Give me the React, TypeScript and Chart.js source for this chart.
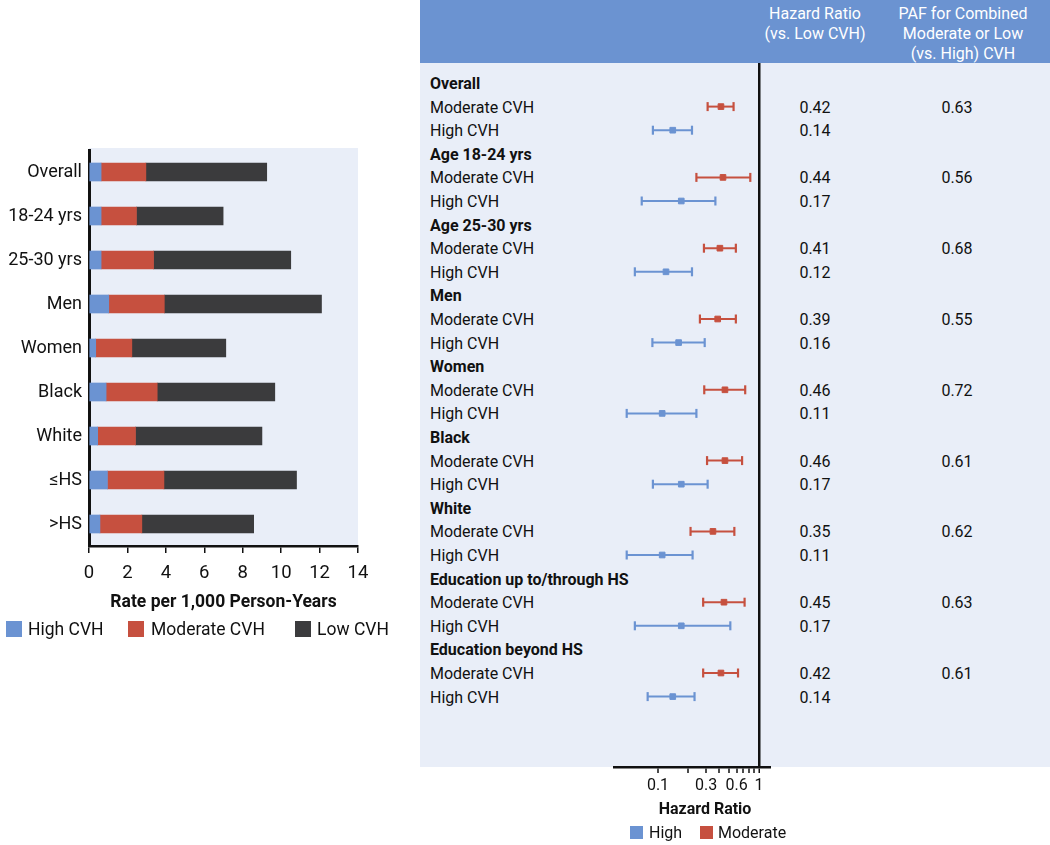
import React, { useEffect, useRef } from 'react';
import { Chart, registerables } from 'chart.js';
Chart.register(...registerables);

const FONT = 'Roboto, "Open Sans", sans-serif';
const BLUE = '#6b93d2';
const RED = '#c6503f';
const DARK = '#3b3b3d';
const PANEL_BG = '#e9eef8';
const HEADER_BG = '#6b93d1';
const INK = '#111111';

// ---------- Left panel: incidence rates ----------
const barCategories = ['Overall', '18-24 yrs', '25-30 yrs', 'Men', 'Women', 'Black', 'White', '≤HS', '>HS'];
const highCVHRate = [0.63, 0.63, 0.63, 1.03, 0.35, 0.89, 0.45, 0.96, 0.57];
const moderateCVHRate = [2.33, 1.84, 2.73, 2.89, 1.88, 2.66, 1.97, 2.94, 2.18];
const lowCVHRate = [6.29, 4.51, 7.14, 8.18, 4.89, 6.12, 6.58, 6.9, 5.82];
const rateSeriesNames = ['High CVH', 'Moderate CVH', 'Low CVH'];

// ---------- Right panel: hazard ratios ----------
const subgroupNames = ['Overall', 'Age 18-24 yrs', 'Age 25-30 yrs', 'Men', 'Women', 'Black', 'White', 'Education up to/through HS', 'Education beyond HS'];
const moderateHR = [0.42, 0.44, 0.41, 0.39, 0.46, 0.46, 0.35, 0.45, 0.42];
const moderateLower = [0.31, 0.24, 0.285, 0.26, 0.287, 0.306, 0.21, 0.28, 0.28];
const moderateUpper = [0.56, 0.82, 0.59, 0.59, 0.73, 0.68, 0.57, 0.72, 0.62];
const highHR = [0.14, 0.17, 0.12, 0.16, 0.11, 0.17, 0.11, 0.17, 0.14];
const highLower = [0.089, 0.069, 0.059, 0.088, 0.049, 0.089, 0.049, 0.059, 0.079];
const highUpper = [0.217, 0.37, 0.217, 0.29, 0.24, 0.31, 0.22, 0.52, 0.23];
const pafValues = [0.63, 0.56, 0.68, 0.55, 0.72, 0.61, 0.62, 0.63, 0.61];
const hrTickMarks = [0.1, 0.2, 0.3, 0.4, 0.5, 0.6, 0.7, 0.8, 0.9, 1];
const hrTickLabels = [0.1, 0.3, 0.6, 1];

// layout of rows in the right panel
const ROW_TOP = 83;
const ROW_STEP = 23.6;
const PLOT_TOP = 63;
const PLOT_BOTTOM = 767;
const rowY = (r: number) => ROW_TOP + ROW_STEP * r;

const bgPlugin = {
  id: 'plotBg',
  beforeDraw(chart: any) {
    const { ctx, chartArea: a } = chart;
    ctx.save();
    ctx.fillStyle = PANEL_BG;
    ctx.fillRect(a.left, a.top - 2, a.right - a.left, a.bottom - a.top + 2);
    ctx.restore();
  },
};

function RateChart() {
  const ref = useRef<HTMLCanvasElement>(null);
  useEffect(() => {
    const colors = [BLUE, RED, DARK];
    const values = [highCVHRate, moderateCVHRate, lowCVHRate];
    const chart = new Chart(ref.current as HTMLCanvasElement, {
      type: 'bar',
      data: {
        labels: barCategories,
        datasets: rateSeriesNames.map((n, i) => ({
          label: n,
          data: values[i],
          backgroundColor: colors[i],
          barThickness: 18,
        })),
      },
      options: {
        indexAxis: 'y',
        responsive: false,
        animation: false,
        layout: { padding: { left: 0, top: 150, right: 22, bottom: 0 } },
        plugins: { legend: { display: false }, tooltip: { enabled: false } },
        scales: {
          x: {
            stacked: true,
            min: 0,
            max: 14,
            ticks: { stepSize: 2, color: INK, font: { family: FONT, size: 18.5 }, padding: 9, maxRotation: 0 },
            grid: { drawOnChartArea: false, drawTicks: true, tickLength: 7, color: INK, lineWidth: 1.5 },
            border: { color: INK, width: 2.5 },
            title: {
              display: true,
              text: 'Rate per 1,000 Person-Years',
              color: INK,
              font: { family: FONT, size: 17.5, weight: 'bold' },
              padding: { top: 0, bottom: 7 },
            },
            afterFit(s: any) { s.height = 74; },
          },
          y: {
            stacked: true,
            ticks: { color: INK, font: { family: FONT, size: 18 }, padding: 7 },
            grid: { display: false, drawTicks: false },
            border: { color: INK, width: 3 },
            afterFit(s: any) { s.width = 89; },
          },
        },
      } as any,
      plugins: [bgPlugin],
    });
    return () => chart.destroy();
  }, []);
  return <canvas ref={ref} width={380} height={620} style={{ position: 'absolute', left: 0, top: 0 }} />;
}

function ForestChart() {
  const ref = useRef<HTMLCanvasElement>(null);
  useEffect(() => {
    const datasets: any[] = [];
    subgroupNames.forEach((_, i) => {
      datasets.push({
        data: [{ x: moderateLower[i], y: 3 * i + 1 }, { x: moderateUpper[i], y: 3 * i + 1 }],
        showLine: true, borderColor: RED, borderWidth: 2,
        pointStyle: 'line', pointRotation: 90, pointRadius: 4.5, pointBorderWidth: 2.2, pointBorderColor: RED,
      });
      datasets.push({
        data: [{ x: highLower[i], y: 3 * i + 2 }, { x: highUpper[i], y: 3 * i + 2 }],
        showLine: true, borderColor: BLUE, borderWidth: 2,
        pointStyle: 'line', pointRotation: 90, pointRadius: 4.5, pointBorderWidth: 2.2, pointBorderColor: BLUE,
      });
    });
    datasets.push({
      label: 'Moderate',
      data: moderateHR.map((v, i) => ({ x: v, y: 3 * i + 1 })),
      pointStyle: 'rect', pointRadius: 4, backgroundColor: RED, borderColor: RED, pointBorderWidth: 1,
    });
    datasets.push({
      label: 'High',
      data: highHR.map((v, i) => ({ x: v, y: 3 * i + 2 })),
      pointStyle: 'rect', pointRadius: 4, backgroundColor: BLUE, borderColor: BLUE, pointBorderWidth: 1,
    });
    const yMin = (PLOT_TOP - ROW_TOP) / ROW_STEP;
    const yMax = (PLOT_BOTTOM - ROW_TOP) / ROW_STEP;
    const decade = 101;
    const oneX = 759 - 420;
    const leftX = 614 - 420;
    const rightX = 771 - 420;
    const chart = new Chart(ref.current as HTMLCanvasElement, {
      type: 'scatter',
      data: { datasets },
      options: {
        responsive: false,
        animation: false,
        layout: { padding: { left: leftX, right: 630 - rightX, top: PLOT_TOP, bottom: 0 } },
        plugins: { legend: { display: false }, tooltip: { enabled: false } },
        scales: {
          x: {
            type: 'logarithmic',
            min: Math.pow(10, (leftX - oneX) / decade),
            max: Math.pow(10, (rightX - oneX) / decade),
            afterBuildTicks(s: any) { s.ticks = hrTickMarks.map((v) => ({ value: v })); },
            ticks: {
              autoSkip: false, maxRotation: 0, color: INK, padding: 3,
              font: { family: FONT, size: 16 },
              callback: (v: any) => (hrTickLabels.includes(v) ? String(v) : ''),
            },
            grid: {
              drawOnChartArea: true, drawTicks: true, tickLength: 6,
              color: (c: any) => (c.tick && c.tick.value === 1 ? INK : 'rgba(0,0,0,0)'),
              lineWidth: (c: any) => (c.tick && c.tick.value === 1 ? 2.5 : 0),
              tickColor: INK, tickWidth: 1.5,
            },
            border: { color: INK, width: 2.5 },
            afterFit(s: any) { s.height = 33; },
          },
          y: { display: false, reverse: true, min: yMin, max: yMax },
        },
      } as any,
    });
    return () => chart.destroy();
  }, []);
  return <canvas ref={ref} width={630} height={800} style={{ position: 'absolute', left: 420, top: 0 }} />;
}

const txt = (extra: React.CSSProperties): React.CSSProperties => ({
  position: 'absolute', fontFamily: FONT, color: INK, whiteSpace: 'nowrap', lineHeight: '20px', ...extra,
});

function Swatch({ x, y, size, color }: { x: number; y: number; size: number; color: string }) {
  return <div style={{ position: 'absolute', left: x, top: y, width: size, height: size, background: color }} />;
}

export default function App() {
  const rows: React.ReactNode[] = [];
  subgroupNames.forEach((name, i) => {
    rows.push(<div key={'g' + i} style={txt({ left: 430, top: rowY(3 * i) - 9, fontSize: 16, fontWeight: 'bold' })}>{name}</div>);
    rows.push(<div key={'m' + i} style={txt({ left: 430, top: rowY(3 * i + 1) - 9, fontSize: 16 })}>Moderate CVH</div>);
    rows.push(<div key={'h' + i} style={txt({ left: 430, top: rowY(3 * i + 2) - 9, fontSize: 16 })}>High CVH</div>);
    rows.push(<div key={'mv' + i} style={txt({ left: 765, width: 100, textAlign: 'center', top: rowY(3 * i + 1) - 9, fontSize: 16 })}>{moderateHR[i].toFixed(2)}</div>);
    rows.push(<div key={'hv' + i} style={txt({ left: 765, width: 100, textAlign: 'center', top: rowY(3 * i + 2) - 9, fontSize: 16 })}>{highHR[i].toFixed(2)}</div>);
    rows.push(<div key={'pv' + i} style={txt({ left: 907, width: 100, textAlign: 'center', top: rowY(3 * i + 1) - 9, fontSize: 16 })}>{pafValues[i].toFixed(2)}</div>);
  });
  return (
    <div style={{ position: 'absolute', left: 0, top: 0, width: 1050, height: 845, background: '#fff', overflow: 'hidden' }}>
      <div style={{ position: 'absolute', left: 420, top: 0, width: 630, height: PLOT_BOTTOM, background: PANEL_BG }} />
      <div style={{ position: 'absolute', left: 420, top: 0, width: 630, height: PLOT_TOP, background: HEADER_BG }} />
      <div style={txt({ left: 755, width: 120, top: 4, textAlign: 'center', color: '#fff', fontSize: 16, whiteSpace: 'normal' })}>
        Hazard Ratio<br />(vs. Low CVH)
      </div>
      <div style={txt({ left: 888, width: 150, top: 4, textAlign: 'center', color: '#fff', fontSize: 16, whiteSpace: 'normal' })}>
        PAF for Combined<br />Moderate or Low<br />(vs. High) CVH
      </div>
      {rows}
      <RateChart />
      <ForestChart />
      <div style={txt({ left: 630, width: 150, top: 799, textAlign: 'center', fontSize: 16, fontWeight: 'bold' })}>Hazard Ratio</div>
      <Swatch x={630} y={826} size={13} color={BLUE} />
      <div style={txt({ left: 649, top: 823, fontSize: 16 })}>High</div>
      <Swatch x={700} y={826} size={13} color={RED} />
      <div style={txt({ left: 718, top: 823, fontSize: 16 })}>Moderate</div>
      <Swatch x={6} y={621} size={16} color={BLUE} />
      <div style={txt({ left: 28, top: 619, fontSize: 17.5 })}>{rateSeriesNames[0]}</div>
      <Swatch x={128} y={621} size={16} color={RED} />
      <div style={txt({ left: 151, top: 619, fontSize: 17.5 })}>{rateSeriesNames[1]}</div>
      <Swatch x={295} y={621} size={16} color={DARK} />
      <div style={txt({ left: 317, top: 619, fontSize: 17.5 })}>{rateSeriesNames[2]}</div>
    </div>
  );
}
